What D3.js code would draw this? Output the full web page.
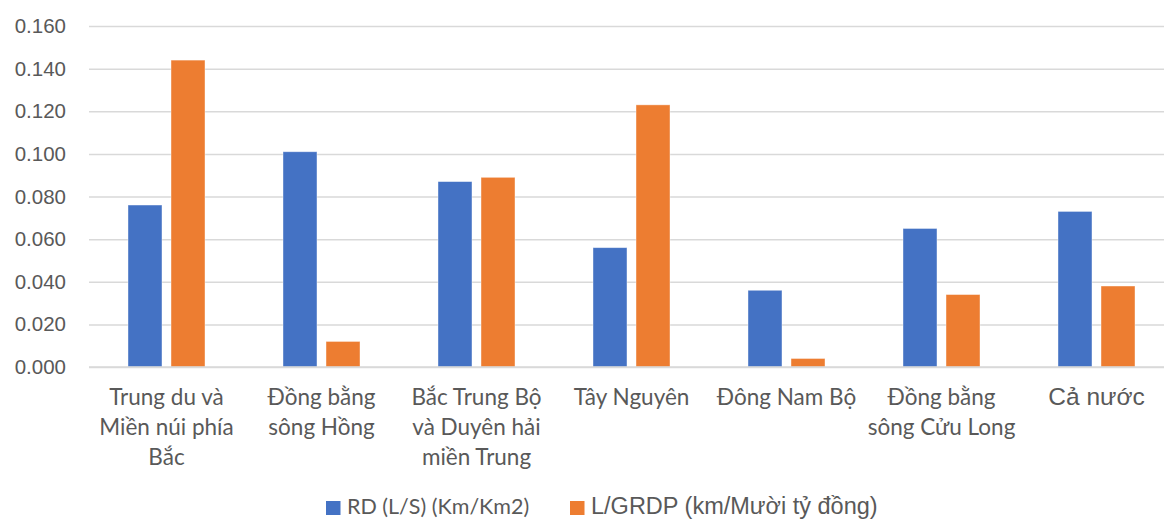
<!DOCTYPE html>
<html>
<head>
<meta charset="utf-8">
<script src="https://cdn.jsdelivr.net/npm/d3@7"></script>
<style>
  html, body { margin: 0; padding: 0; background: #fff; }
  svg { display: block; }
</style>
</head>
<body>
<svg id="chart" width="1164" height="520"></svg>
<script>
// Regions (line breaks mark how each label wraps under the axis)
const categories = [
  "Trung du và\nMiền núi phía\nBắc",
  "Đồng bằng\nsông Hồng",
  "Bắc Trung Bộ\nvà Duyên hải\nmiền Trung",
  "Tây Nguyên",
  "Đông Nam Bộ",
  "Đồng bằng\nsông Cửu Long",
  "Cả nước"
];
const seriesNames = ["RD (L/S) (Km/Km2)", "L/GRDP (km/Mười tỷ đồng)"];
const rdValues   = [0.076, 0.101, 0.087, 0.056, 0.036, 0.065, 0.073];
const lgrdpValues = [0.144, 0.012, 0.089, 0.123, 0.004, 0.034, 0.038];
const yTicks = [0, 0.02, 0.04, 0.06, 0.08, 0.10, 0.12, 0.14, 0.16];
const colors = ["#4472C4", "#ED7D31"];

const svg = d3.select("#chart");
const plotLeft = 89, plotRight = 1174, plotTop = 26, plotBottom = 367;

const x = d3.scaleBand().domain(categories).range([plotLeft, plotRight]).padding(0);
const x1 = d3.scaleBand().domain([0, 1]).range([39, x.bandwidth() - 39]).paddingInner(0.21);
const y = d3.scaleLinear().domain([0, 0.16]).range([plotBottom, plotTop]);

// Horizontal gridlines with value labels
const yAxis = d3.axisLeft(y).tickValues(yTicks).tickFormat(d3.format(".3f"))
  .tickSize(-(plotRight - plotLeft)).tickPadding(23);
const gy = svg.append("g").attr("transform", `translate(${plotLeft},0)`).call(yAxis);
gy.select(".domain").remove();
gy.selectAll(".tick line").attr("stroke", "#d9d9d9").attr("stroke-width", 1.5);
gy.selectAll(".tick text")
  .attr("fill", "#595959")
  .attr("font-family", "Liberation Sans, Arial, sans-serif")
  .attr("font-size", "20.5px");

// Bars
const rows = categories.map((c, i) => ({ cat: c, vals: [rdValues[i], lgrdpValues[i]] }));
const groups = svg.append("g").selectAll("g").data(rows).join("g")
  .attr("transform", d => `translate(${x(d.cat)},0)`);
groups.selectAll("rect").data(d => d.vals.map((v, k) => ({ v, k }))).join("rect")
  .attr("x", d => x1(d.k))
  .attr("width", x1.bandwidth())
  .attr("y", d => y(d.v))
  .attr("height", d => y(0) - y(d.v))
  .attr("fill", d => colors[d.k])
  .attr("stroke", "#fff").attr("stroke-opacity", 0.5).attr("stroke-width", 0.8);

// Zero line redrawn on top of the bars
svg.append("line").attr("x1", plotLeft).attr("x2", plotRight)
  .attr("y1", y(0)).attr("y2", y(0)).attr("stroke", "#d9d9d9").attr("stroke-width", 1.5);

// Category labels
const lastIdx = categories.length - 1;
const labels = svg.append("g").selectAll("text").data(categories).join("text")
  .attr("text-anchor", "middle")
  .attr("fill", "#595959")
  .attr("font-family", (d, i) => i === lastIdx ? "Liberation Sans, Arial, sans-serif" : "Lato, sans-serif")
  .attr("font-size", (d, i) => i === lastIdx ? "24.5px" : "22.5px")
  .attr("transform", d => `translate(${x(d) + x.bandwidth() / 2},405)`);
labels.selectAll("tspan").data(d => d.split("\n")).join("tspan")
  .attr("x", 0).attr("y", (d, i) => i * 30).text(d => d);

// Legend
const legend = svg.append("g");
const legendItems = [
  { name: seriesNames[0], color: colors[0], x: 326, font: "Lato, sans-serif", size: "21.5px" },
  { name: seriesNames[1], color: colors[1], x: 570, font: "Liberation Sans, Arial, sans-serif", size: "23.5px" }
];
legendItems.forEach(it => {
  legend.append("rect").attr("x", it.x).attr("y", 501).attr("width", 14.5).attr("height", 14).attr("fill", it.color);
  legend.append("text").attr("x", it.x + 21).attr("y", 514)
    .attr("fill", "#595959").attr("font-family", it.font).attr("font-size", it.size)
    .text(it.name);
});
</script>
</body>
</html>
